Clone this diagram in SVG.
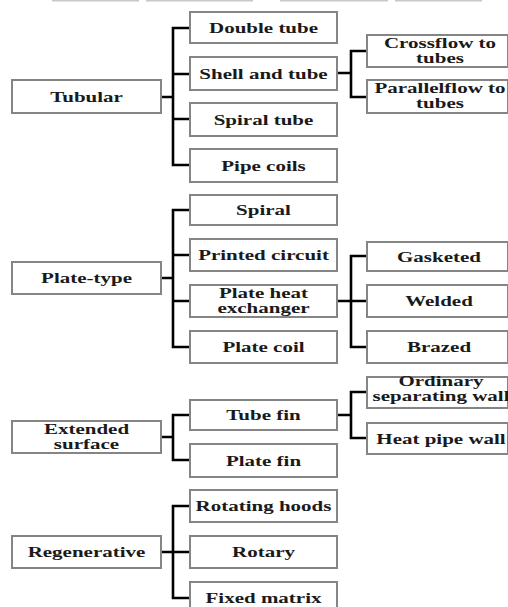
<svg xmlns="http://www.w3.org/2000/svg" width="508" height="607" viewBox="0 0 508 607">
<style>
.box{fill:#fff;stroke:#858585;stroke-width:2}
.t{font-family:"Liberation Serif","Times New Roman","DejaVu Serif",serif;font-weight:bold;font-size:15px;fill:#1a1a1a;text-anchor:middle}
.c{fill:none;stroke:#000;stroke-width:2.6;stroke-linejoin:miter;stroke-linecap:butt}
.top{stroke:#c8c8c8;stroke-width:2}
</style>
<rect width="508" height="607" fill="#fff"/>
<g id="top-remnants">
<line class="top" x1="52" y1="0.5" x2="139" y2="0.5"/>
<line class="top" x1="146" y1="0.5" x2="253" y2="0.5"/>
<line class="top" x1="280" y1="0.5" x2="388" y2="0.5"/>
<line class="top" x1="395" y1="0.5" x2="482" y2="0.5"/>
</g>
<g id="connectors">
<path class="c" d="M161,97H173M190,28H173V165H190M173,74H190M173,119H190"/>
<path class="c" d="M337,73H351M367,51H351V97H367"/>
<path class="c" d="M161,278H173M190,210H173V347H190M173,255H190M173,301H190"/>
<path class="c" d="M337,301H367M367,256H351V347H367"/>
<path class="c" d="M161,437H173M190,415H173V460H190"/>
<path class="c" d="M337,415H351M367,392H351V438H367"/>
<path class="c" d="M161,552H190M190,506H173V598H190"/>
</g>
<g id="tubular"><rect class="box" x="12" y="80" width="149" height="33"/><text class="t" transform="translate(86.5,102) scale(1.4,1)">Tubular</text></g>
<g id="plate-type"><rect class="box" x="12" y="262" width="149" height="32"/><text class="t" transform="translate(86.5,283) scale(1.4,1)">Plate-type</text></g>
<g id="extended-surface"><rect class="box" x="12" y="421" width="149" height="32"/><text class="t" transform="translate(86.5,434) scale(1.4,1)">Extended</text><text class="t" transform="translate(86.5,449) scale(1.4,1)">surface</text></g>
<g id="regenerative"><rect class="box" x="12" y="536" width="149" height="32"/><text class="t" transform="translate(86.5,557) scale(1.4,1)">Regenerative</text></g>

<g id="double-tube"><rect class="box" x="190" y="12" width="147" height="31"/><text class="t" transform="translate(263.5,33) scale(1.4,1)">Double tube</text></g>
<g id="shell-and-tube"><rect class="box" x="190" y="57" width="147" height="33"/><text class="t" transform="translate(263.5,79) scale(1.4,1)">Shell and tube</text></g>
<g id="spiral-tube"><rect class="box" x="190" y="103" width="147" height="33"/><text class="t" transform="translate(263.5,125) scale(1.4,1)">Spiral tube</text></g>
<g id="pipe-coils"><rect class="box" x="190" y="149" width="147" height="33"/><text class="t" transform="translate(263.5,171) scale(1.4,1)">Pipe coils</text></g>
<g id="spiral"><rect class="box" x="190" y="195" width="147" height="30"/><text class="t" transform="translate(263.5,215) scale(1.4,1)">Spiral</text></g>
<g id="printed-circuit"><rect class="box" x="190" y="239" width="147" height="32"/><text class="t" transform="translate(263.5,260) scale(1.4,1)">Printed circuit</text></g>
<g id="plate-heat-exchanger"><rect class="box" x="190" y="285" width="147" height="32"/><text class="t" transform="translate(263.5,298) scale(1.4,1)">Plate heat</text><text class="t" transform="translate(263.5,313) scale(1.4,1)">exchanger</text></g>
<g id="plate-coil"><rect class="box" x="190" y="331" width="147" height="32"/><text class="t" transform="translate(263.5,352) scale(1.4,1)">Plate coil</text></g>
<g id="tube-fin"><rect class="box" x="190" y="400" width="147" height="30"/><text class="t" transform="translate(263.5,420) scale(1.4,1)">Tube fin</text></g>
<g id="plate-fin"><rect class="box" x="190" y="444" width="147" height="33"/><text class="t" transform="translate(263.5,466) scale(1.4,1)">Plate fin</text></g>
<g id="rotating-hoods"><rect class="box" x="190" y="490" width="147" height="32"/><text class="t" transform="translate(263.5,511) scale(1.4,1)">Rotating hoods</text></g>
<g id="rotary"><rect class="box" x="190" y="536" width="147" height="32"/><text class="t" transform="translate(263.5,557) scale(1.4,1)">Rotary</text></g>
<g id="fixed-matrix"><rect class="box" x="190" y="582" width="147" height="32"/><text class="t" transform="translate(263.5,603) scale(1.4,1)">Fixed matrix</text></g>

<g id="crossflow"><rect class="box" x="367" y="35" width="141" height="32"/><text class="t" transform="translate(440,48) scale(1.4,1)">Crossflow to</text><text class="t" transform="translate(440,63) scale(1.4,1)">tubes</text></g>
<g id="parallelflow"><rect class="box" x="367" y="80" width="141" height="33"/><text class="t" transform="translate(440,93) scale(1.4,1)">Parallelflow to</text><text class="t" transform="translate(440,108) scale(1.4,1)">tubes</text></g>
<g id="gasketed"><rect class="box" x="367" y="242" width="141" height="29"/><text class="t" transform="translate(439,262) scale(1.4,1)">Gasketed</text></g>
<g id="welded"><rect class="box" x="367" y="285" width="141" height="32"/><text class="t" transform="translate(439,306) scale(1.4,1)">Welded</text></g>
<g id="brazed"><rect class="box" x="367" y="331" width="141" height="32"/><text class="t" transform="translate(439,352) scale(1.4,1)">Brazed</text></g>
<g id="ordinary-separating-wall"><rect class="box" x="367" y="377" width="141" height="31"/><text class="t" transform="translate(441,386) scale(1.4,1)">Ordinary</text><text class="t" transform="translate(441,401) scale(1.4,1)">separating wall</text></g>
<g id="heat-pipe-wall"><rect class="box" x="367" y="423" width="141" height="31"/><text class="t" transform="translate(441,444) scale(1.4,1)">Heat pipe wall</text></g>
</svg>
